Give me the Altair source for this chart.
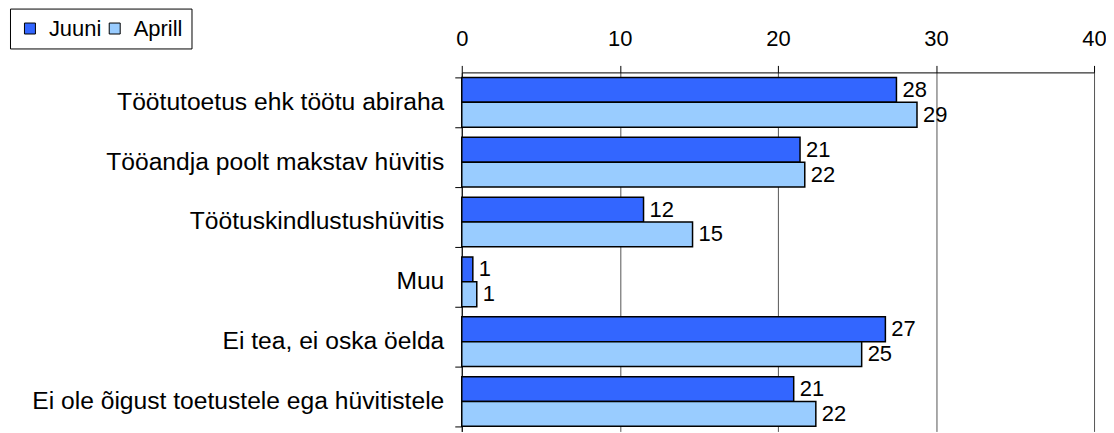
import altair as alt
import pandas as pd

categories = [
    "Töötutoetus ehk töötu abiraha",
    "Tööandja poolt makstav hüvitis",
    "Töötuskindlustushüvitis",
    "Muu",
    "Ei tea, ei oska öelda",
    "Ei ole õigust toetustele ega hüvitistele",
]
series = ["Juuni", "Aprill"]
juuni = [27.5, 21.4, 11.5, 0.7, 26.8, 21.0]
aprill = [28.8, 21.7, 14.6, 0.95, 25.3, 22.4]
juuni_labels = ["28", "21", "12", "1", "27", "21"]
aprill_labels = ["29", "22", "15", "1", "25", "22"]
x_ticks = [0, 10, 20, 30, 40]
colors = ["#3366FF", "#99CCFF"]

rows = []
for i, c in enumerate(categories):
    rows.append(dict(cat=c, series="Juuni", value=juuni[i], label=juuni_labels[i]))
    rows.append(dict(cat=c, series="Aprill", value=aprill[i], label=aprill_labels[i]))
df = pd.DataFrame(rows)

FONT = "Liberation Sans"
FS = 22

y_enc = alt.Y(
    "cat:N",
    sort=categories,
    scale=alt.Scale(paddingInner=0.17, paddingOuter=0.085),
    axis=alt.Axis(
        title=None,
        tickBand="extent",
        domainColor="black",
        tickColor="black",
        tickSize=7,
        labelPadding=11,
        labelFontSize=24.7,
        labelFont=FONT,
        labelColor="black",
        grid=False,
        labelLimit=600,
    ),
)
x_enc = alt.X(
    "value:Q",
    scale=alt.Scale(domain=[0, 40], nice=False),
    axis=alt.Axis(
        orient="top",
        values=x_ticks,
        title=None,
        format="d",
        grid=True,
        gridColor="#555555",
        domainColor="black",
        tickColor="black",
        tickSize=7,
        labelPadding=15,
        labelFontSize=FS,
        labelFont=FONT,
        labelColor="black",
        labelFlush=False,
    ),
)
yoff = alt.YOffset("series:N", sort=series, scale=alt.Scale(paddingInner=0, paddingOuter=0))
color = alt.Color(
    "series:N",
    sort=series,
    scale=alt.Scale(domain=series, range=colors),
    legend=alt.Legend(
        orient="none",
        legendX=-453,
        legendY=-64,
        direction="horizontal",
        title=None,
        strokeColor="black",
        fillColor="white",
        padding=9,
        symbolType="square",
        symbolSize=121,
        symbolStrokeColor="black",
        symbolStrokeWidth=1,
        symbolOpacity=1,
        labelFontSize=FS,
        labelFont=FONT,
        labelColor="black",
        columnPadding=2,
        labelOffset=8,
    ),
)

bars = alt.Chart(df).mark_bar(stroke="black", strokeWidth=1.5, opacity=1).encode(
    y=y_enc, x=x_enc, yOffset=yoff, color=color
)
text = alt.Chart(df).mark_text(
    align="left", baseline="middle", dx=6, fontSize=FS, font=FONT, color="black"
).encode(
    y=alt.Y("cat:N", sort=categories),
    x=alt.X("value:Q"),
    yOffset=alt.YOffset("series:N", sort=series),
    text="label:N",
)

chart = (
    alt.layer(bars, text)
    .properties(
        width=634,
        height=360,
        autosize=alt.AutoSizeParams(type="none"),
        padding={"left": 455, "top": 64, "right": 12, "bottom": 0},
    )
    .configure_view(stroke=None)
)

chart.save("out.html", embed_options={"renderer": "svg", "actions": False})
